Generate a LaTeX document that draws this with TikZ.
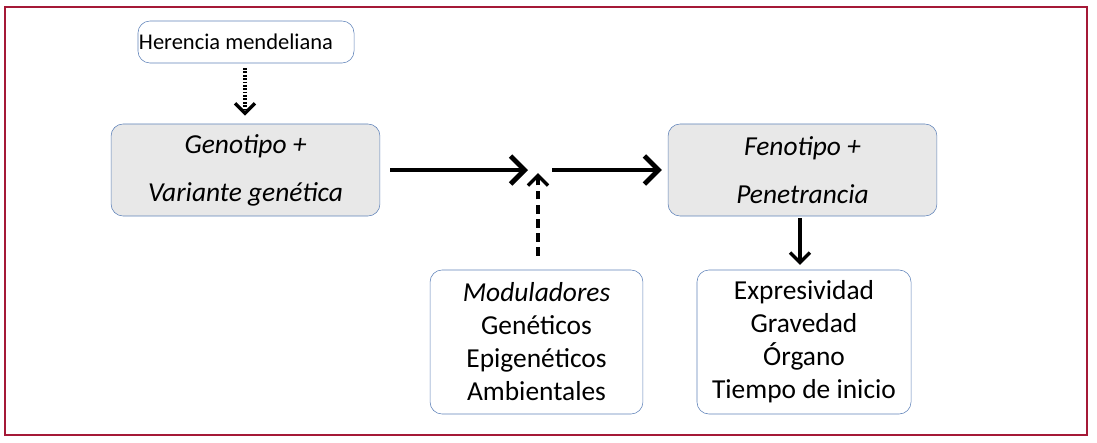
\documentclass[tikz,border=0pt]{standalone}
\usepackage{fontspec}
\setmainfont{Carlito}
\usetikzlibrary{arrows.meta}
\definecolor{framered}{RGB}{165,25,55}
\definecolor{boxblue}{RGB}{95,130,185}
\definecolor{boxgray}{RGB}{232,232,232}
\begin{document}
\begin{tikzpicture}[x=0.025cm,y=-0.025cm,
    caja/.style ={draw=boxblue, rounded corners=3mm, inner sep=0pt, align=center},
    flecha/.style ={line width=3.4pt, -{Straight Barb[length=3.5mm,width=7mm,line width=3.4pt]}},
    fina/.style ={line width=2.4pt, -{Straight Barb[length=2.5mm,width=5mm,line width=2.4pt]}}]
   \useasboundingbox (0,0) rectangle (1097,442);
   \draw[framered, line width=1pt] (5,7) rectangle (1087,435);
   \node[caja, minimum width=5.4cm, minimum height=1.05cm, font=\fontsize{16}{18}\selectfont] (H) at (246,42) {\raisebox{-1.5mm}{Herencia mendeliana\hspace{5mm}}};
   \node[caja, fill=boxgray, minimum width=6.72cm, minimum height=2.3cm, font=\fontsize{19.5}{34}\selectfont\itshape] (G) at (245.5,170) {Genotipo +\\Variante genética};
   \node[caja, fill=boxgray, minimum width=6.72cm, minimum height=2.3cm, font=\fontsize{19.5}{34}\selectfont\itshape] (F) at (802.5,170) {Fenotipo +\\Penetrancia};
   \node[caja, minimum width=5.32cm, minimum height=3.6cm, font=\fontsize{19.5}{23.5}\selectfont] (M) at (536.5,342) {\textit{Moduladores}\\Genéticos\\Epigenéticos\\Ambientales};
   \node[caja, minimum width=5.35cm, minimum height=3.6cm, font=\fontsize{19.5}{23.5}\selectfont] (E) at (804,342) {Expresividad\\Gravedad\\Órgano\\Tiempo de inicio};
   \coordinate (C) at (538,170);

   \draw[fina, dash pattern=on 1.2pt off 1.2pt] ([yshift=-0.12cm]H.south -| 245,0) -- ([yshift=0.2cm]G.north -| 245,0);
   \draw[flecha] ([xshift=0.25cm]G.east) -- ([xshift=-0.25cm]C);
   \draw[flecha] ([xshift=0.35cm]C) -- ([xshift=-0.15cm]F.west);
   \draw[fina, dash pattern=on 6pt off 4pt] ([yshift=0.35cm]M.north -| C) -- ([yshift=-0.08cm]C);
   \draw[fina] ([yshift=-0.05cm]F.south -| 800,0) -- ([yshift=0.12cm]E.north -| 800,0);
 \end{tikzpicture}
\end{document}
